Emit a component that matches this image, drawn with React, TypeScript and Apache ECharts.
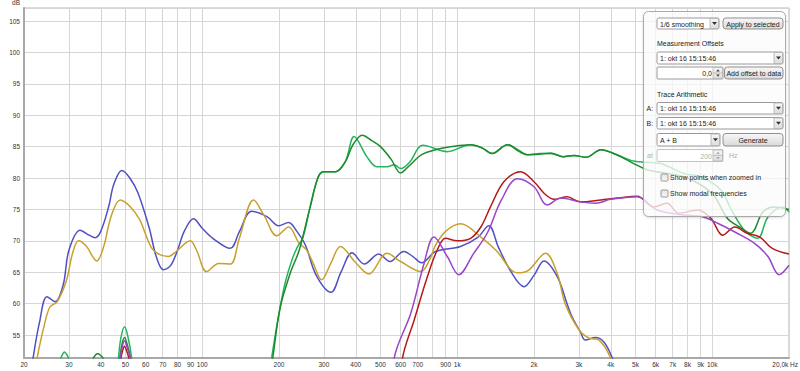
import React, { useEffect, useRef } from "react";
import * as echarts from "echarts";

// ---- data (frequency Hz, level dB) ----
const blueResponse: [number, number][] = [
  [20, 42], [21.7, 51.3], [23, 57], [24.6, 61.1], [26.5, 60.3], [28.5, 63], [30, 68.5], [33.2, 71.7],
  [36, 70.9], [38, 70.5], [40, 71.5], [43, 75.5], [45, 79], [48.4, 81.2], [52, 80], [56, 77.6],
  [62, 72], [66, 67.5], [70.4, 65.4], [75, 66], [80, 68.5], [85, 71.5], [92.4, 73.5], [100, 72],
  [110, 70.4], [128.8, 68.8], [140, 71.5], [156, 74.7], [180, 73.8], [199, 72.4], [218, 72.9],
  [235, 71.5], [254, 69.3], [280, 64.5], [320, 61.8], [350, 65], [387, 68.1], [432, 66.3],
  [492, 67.9], [545, 66.7], [617, 68.3], [670, 67.5], [725, 66.5], [822, 68.3], [1030, 69.1],
  [1200, 70.5], [1330, 72.4], [1450, 69], [1624, 65.1], [1828, 62.7], [2000, 64.5], [2188, 66.8],
  [2468, 64.3], [2694, 60], [2820, 57.9], [3040, 55.5], [3180, 54.2], [3480, 54.6], [3760, 53.9],
  [4060, 51.3], [4300, 48],
];

const goldResponse: [number, number][] = [
  [20, 40], [22.5, 51.3], [24, 56.5], [25.3, 59.5], [27, 60.3], [29.4, 63.8], [31, 68], [32.7, 70],
  [35, 69.2], [38.6, 66.8], [41, 69], [44, 74], [47.7, 76.5], [52, 75.5], [57, 73.3], [60, 71],
  [64.4, 68.5], [73.6, 67.5], [79, 68.3], [89.7, 70], [95, 68.5], [104, 65.1], [116, 66.4],
  [129, 66.3], [140, 70.5], [159, 76.5], [175, 74], [196, 70.8], [218, 72.2], [240, 69.6],
  [256, 68.6], [272, 66.5], [294, 63.8], [320, 66.5], [348, 69.1], [400, 66.5], [450, 64.7],
  [530, 68], [600, 66.7], [720, 65.1], [780, 67], [822, 69.3], [900, 71.5], [1030, 72.7],
  [1238, 70.6], [1418, 68.5], [1724, 64.9], [1900, 65.3], [2220, 68], [2468, 64.8], [2650, 60],
  [3006, 55.8], [3294, 54.5], [3600, 54.2], [3990, 51.4], [4200, 48],
];

const lightGreenResponse: [number, number][] = [
  [20, 35], [26.5, 46], [27.9, 51.3], [28.4, 52.0], [28.8, 52.3], [29.3, 52.0], [29.9, 51.3],
  [31.5, 46], [40, 36], [45.4, 46], [46.9, 51.3], [48, 54.6], [49.6, 56.3], [51.2, 54.6],
  [52.9, 51.3], [54.5, 46], [60, 35], [150, 35], [170, 40], [187, 51.3], [200, 58.5], [212, 63.5],
  [225, 67], [236, 69], [248, 70.5], [265, 75.4], [283, 79.8], [299, 81], [333, 81], [364, 82.6],
  [394, 86.6], [442, 83.4], [484, 81.8], [530, 81.8], [566, 82.1], [600, 81.5], [650, 82.5],
  [732, 85.2], [914, 84.2], [1128, 85.3], [1250, 84.8], [1370, 83.9], [1574, 85.3], [1750, 84.4],
  [1886, 83.7], [2100, 83.9], [2330, 84], [2600, 83.4], [2866, 83.6], [3200, 83.3], [3660, 84.5],
  [4220, 83.7], [4920, 82.7], [6260, 82.3], [7760, 80.7], [9020, 80.2], [10800, 78.1],
  [11900, 74.9], [13500, 71.5], [15080, 70.4], [16540, 73.8], [18900, 75.4], [20000, 74.6],
];

const darkGreenResponse: [number, number][] = [
  [20, 35], [35.8, 46], [37.4, 51.3], [38.2, 51.85], [38.9, 52.0], [39.7, 51.85], [40.8, 51.3],
  [42.5, 46], [44.2, 42], [46, 46], [47.5, 51.3], [48.5, 53.6], [49.6, 54.6], [50.7, 53.6],
  [52.3, 51.3], [54, 46], [60, 35], [150, 35], [172, 40], [189, 51.3], [202, 59.3], [222, 65],
  [240, 68.5], [265, 75.4], [285, 80.2], [299, 81], [333, 81], [364, 82.6], [390, 85.3],
  [424, 86.8], [460, 86], [500, 85], [550, 83], [600, 80.8], [650, 82], [732, 83.8], [914, 84.9],
  [1128, 85.3], [1250, 84.8], [1370, 83.9], [1574, 85.3], [1750, 84.2], [1886, 83.7], [2100, 83.8],
  [2330, 83.9], [2600, 83.4], [2866, 83.6], [3200, 83.3], [3660, 84.5], [4220, 83.7],
  [4920, 82.3], [5560, 81.3], [6500, 80.8], [8000, 80], [10000, 77.5], [11500, 73.5],
  [12800, 72.2], [14140, 71.2], [15800, 74.6], [17500, 75.4], [20000, 75],
];

const redResponse: [number, number][] = [
  [20, 35], [46.5, 46], [48, 51.3], [48.8, 52.6], [49.6, 53.2], [50.4, 52.6], [51.5, 51.3],
  [53, 46], [60, 35], [550, 35], [610, 51.3], [678, 57.4], [764, 64.3], [834, 68.5], [900, 70.4],
  [1000, 70], [1128, 70.4], [1238, 72.2], [1350, 75.4], [1524, 79.4], [1774, 81], [2000, 79.4],
  [2200, 77.5], [2400, 76.6], [2694, 77], [3040, 76.2], [3660, 76.5], [4220, 76.8], [5080, 77.1],
  [5900, 75.4], [6650, 76], [7380, 74.4], [8760, 74.9], [9880, 73.6], [10980, 70.9],
  [12260, 72.2], [13720, 71.2], [15360, 70.6], [17200, 68.8], [20000, 67.9],
];

const purpleResponse: [number, number][] = [
  [20, 35], [46, 46], [47.7, 51.3], [48.6, 53.2], [49.6, 54.1], [50.6, 53.2], [52.2, 51.3],
  [54, 46], [60, 35], [520, 35], [566, 51.3], [658, 58.5], [741, 66.4], [810, 70.6], [914, 67.5],
  [1014, 64.6], [1160, 68], [1310, 71.2], [1490, 76.5], [1724, 79.9], [2000, 78.6], [2254, 75.7],
  [2546, 76.8], [3040, 76.2], [3500, 76], [4000, 76.6], [5080, 77], [6080, 74.9], [7760, 74.1],
  [9020, 73.9], [10500, 72.8], [12260, 71.4], [14650, 69.6], [16540, 67.5], [18300, 64.6],
  [20000, 66.1],
];

const xGridValues = [
  20, 30, 40, 50, 60, 70, 80, 90, 100, 200, 300, 400, 500, 600, 700, 800, 900, 1000,
  2000, 3000, 4000, 5000, 6000, 7000, 8000, 9000, 10000, 20000,
];
const xLabelValues = [
  20, 30, 40, 50, 60, 70, 80, 90, 100, 200, 300, 400, 500, 600, 700, 900, 1000,
  2000, 3000, 4000, 5000, 6000, 7000, 8000, 9000, 10000,
];
const xEndLabel = "20,0k Hz";

const FONT = "Liberation Sans, Arial, sans-serif";

function txt(x: number, y: number, text: string, fill = "#222", align = "left", size = 7) {
  return {
    type: "text", x, y, z: 120,
    style: { text, fill, fontSize: size, fontFamily: FONT, align, verticalAlign: "middle" },
  };
}

function grad(a: string, b: string) {
  return new echarts.graphic.LinearGradient(0, 0, 0, 1, [
    { offset: 0, color: a },
    { offset: 1, color: b },
  ]);
}

function tri(cx: number, cy: number, up: boolean, w = 2.5, fill = "#333") {
  const h = w * 0.6;
  const pts = up
    ? [[cx - w, cy + h], [cx + w, cy + h], [cx, cy - h]]
    : [[cx - w, cy - h], [cx + w, cy - h], [cx, cy + h]];
  return { type: "polygon", z: 121, shape: { points: pts }, style: { fill } };
}

function combo(x: number, y: number, w: number, h: number, label: string) {
  const aw = 9;
  return [
    { type: "rect", z: 110, shape: { x, y, width: w, height: h, r: 1.5 }, style: { fill: "#fff", stroke: "#9a9a9a", lineWidth: 1 } },
    { type: "rect", z: 111, shape: { x: x + w - aw, y: y + 0.5, width: aw - 0.5, height: h - 1 }, style: { fill: grad("#f6f6f6", "#dcdcdc"), stroke: "#b0b0b0", lineWidth: 0.8 } },
    tri(x + w - aw / 2, y + h / 2, false),
    txt(x + 3, y + h / 2 + 0.5, label),
  ];
}

function button(x: number, y: number, w: number, h: number, label: string) {
  return [
    { type: "rect", z: 110, shape: { x, y, width: w, height: h, r: 3 }, style: { fill: grad("#f8f8f8", "#d9d9d9"), stroke: "#8f8f8f", lineWidth: 1 } },
    txt(x + w / 2, y + h / 2 + 0.5, label, "#222", "center"),
  ];
}

function spinner(x: number, y: number, w: number, h: number, value: string, disabled: boolean) {
  const c = disabled ? "#b0b0b0" : "#222";
  return [
    { type: "rect", z: 110, shape: { x, y, width: w, height: h, r: 1 }, style: { fill: "#fff", stroke: disabled ? "#c4c4c4" : "#9a9a9a", lineWidth: 1 } },
    { type: "rect", z: 111, shape: { x: x + w - 10, y: y + 0.5, width: 9.5, height: h - 1 }, style: { fill: grad("#f6f6f6", "#dddddd"), stroke: "#b4b4b4", lineWidth: 0.8 } },
    { type: "line", z: 112, shape: { x1: x + w - 10, y1: y + h / 2, x2: x + w - 0.5, y2: y + h / 2 }, style: { stroke: "#b4b4b4", lineWidth: 0.8 } },
    tri(x + w - 5, y + h / 4 + 0.3, true, 1.8, disabled ? "#aaa" : "#444"),
    tri(x + w - 5, y + (3 * h) / 4 - 0.3, false, 1.8, disabled ? "#aaa" : "#444"),
    txt(x + w - 11, y + h / 2 + 0.5, value, c, "right"),
  ];
}

function checkbox(x: number, y: number, label: string) {
  return [
    { type: "rect", z: 110, shape: { x, y, width: 7, height: 7, r: 1 }, style: { fill: grad("#e4e4e4", "#f8f8f8"), stroke: "#9a9a9a", lineWidth: 1 } },
    txt(x + 9, y + 3.8, label),
  ];
}

function panelElements() {
  const els: any[] = [];
  els.push({
    type: "rect", z: 105,
    shape: { x: 643.5, y: 11.5, width: 142, height: 205, r: 5 },
    style: { fill: "rgba(255,255,255,0.74)", stroke: "#a9a9a9", lineWidth: 1, shadowBlur: 2, shadowColor: "rgba(0,0,0,0.15)", shadowOffsetY: 1 },
  });
  els.push(...combo(657, 18, 62, 11, "1/6 smoothing"));
  els.push(...button(723, 18, 60, 11, "Apply to selected"));
  els.push(txt(657, 43.5, "Measurement Offsets"));
  els.push(...combo(657, 52, 126, 12, "1: okt 16 15:15:46"));
  els.push(...spinner(657, 67, 66, 12, "0,0", false));
  els.push(...button(724.5, 67, 58.5, 12, "Add offset to data"));
  els.push(txt(657, 94, "Trace Arithmetic"));
  els.push(txt(646.5, 108, "A:"));
  els.push(...combo(657, 102.5, 126, 11.5, "1: okt 16 15:15:46"));
  els.push(txt(646.5, 123.5, "B:"));
  els.push(...combo(657, 117.5, 126, 11.5, "1: okt 16 15:15:46"));
  els.push(...combo(657, 133.5, 63, 12.5, "A + B"));
  els.push(...button(723, 133.5, 60, 12.5, "Generate"));
  els.push(txt(647, 155.5, "at", "#b0b0b0"));
  els.push(...spinner(657, 149.5, 66, 12, "200", true));
  els.push(txt(729, 155.5, "Hz", "#b0b0b0"));
  els.push(...checkbox(661, 174, "Show points when zoomed in"));
  els.push(...checkbox(661, 190, "Show modal frequencies"));
  return els;
}

function lineSeries(name: string, data: [number, number][], color: string) {
  return {
    name, type: "line", data, smooth: 0.35, showSymbol: false, clip: true,
    lineStyle: { color, width: 1.5 }, itemStyle: { color },
  };
}

export default function App() {
  const ref = useRef<HTMLDivElement>(null);
  useEffect(() => {
    document.body.style.margin = "0";
    const chart = echarts.init(ref.current!, null, { renderer: "svg" });
    const fmt = (v: number) => (v >= 1000 ? `${Math.round(v / 1000)}k` : `${Math.round(v)}`);
    chart.setOption({
      animation: false,
      backgroundColor: "#ffffff",
      grid: {
        left: 24, right: 11, top: 8, bottom: 13, containLabel: false, outerBoundsMode: "none",
        show: true, borderColor: "#b8b8b8", borderWidth: 1,
      },
      xAxis: {
        type: "log", logBase: 10, min: 20, max: 20000,
        axisLine: { show: true, lineStyle: { color: "#a8a8a8", width: 2 } },
        axisTick: { show: false, customValues: xGridValues },
        axisLabel: {
          customValues: xLabelValues, formatter: fmt, fontSize: 6.5, fontFamily: FONT,
          color: "#333", margin: 3,
        },
        splitLine: { show: true, lineStyle: { color: "#d6d6d6", width: 1 } },
      },
      yAxis: {
        type: "value", min: 51.34, max: 107.07, splitNumber: 11,
        name: "dB", nameLocation: "end", nameGap: 2,
        nameTextStyle: { fontSize: 6.5, fontFamily: FONT, color: "#333", align: "right", padding: [0, 4, 0, 0] },
        axisLine: { show: true, lineStyle: { color: "#a8a8a8", width: 2 } },
        axisTick: { show: false },
        axisLabel: { showMinLabel: false, showMaxLabel: false, fontSize: 6.5, fontFamily: FONT, color: "#333", margin: 4 },
        splitLine: { show: true, lineStyle: { color: "#d6d6d6", width: 1 } },
      },
      series: [
        lineSeries("Woofer A", blueResponse, "#5050c4"),
        lineSeries("Woofer B", goldResponse, "#c9a02c"),
        lineSeries("Tweeter A", lightGreenResponse, "#25b35f"),
        lineSeries("Tweeter B", darkGreenResponse, "#1e8a2c"),
        lineSeries("Mid A", redResponse, "#b51a1a"),
        lineSeries("Mid B", purpleResponse, "#9845c8"),
      ],
      graphic: {
        elements: [
          txt(798, 364.5, xEndLabel, "#333", "right", 6.5),
          ...panelElements(),
        ],
      },
    });
    return () => chart.dispose();
  }, []);
  return <div ref={ref} style={{ width: 800, height: 371 }} />;
}
